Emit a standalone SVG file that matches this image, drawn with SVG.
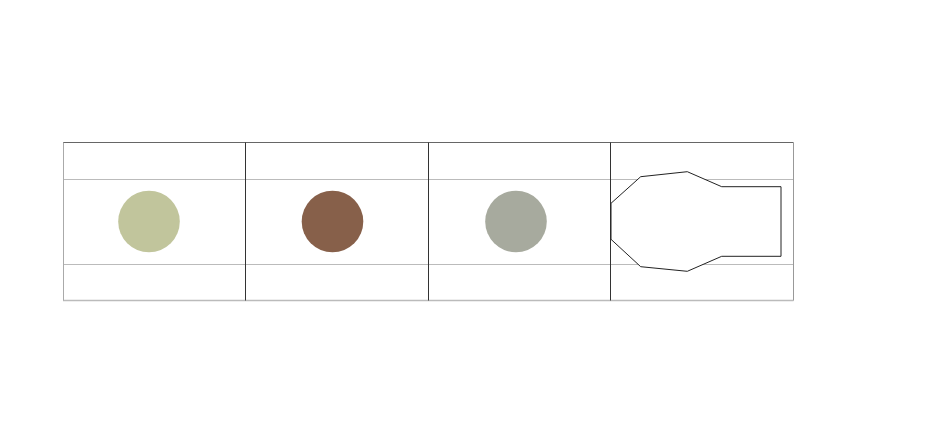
<svg xmlns="http://www.w3.org/2000/svg" width="940" height="444" viewBox="0 0 940 444">
<style>
.grid{stroke:#bbbbbb;stroke-width:1;fill:none}
.div{stroke:#333333;stroke-width:1;fill:none}
.dot{stroke:none}
</style>
<rect width="940" height="444" fill="#ffffff"/>
<g id="frame">
<line class="grid" x1="63" y1="179.5" x2="793" y2="179.5"/>
<line class="grid" x1="63" y1="264.5" x2="793" y2="264.5"/>
<line x1="63" y1="142.5" x2="793.5" y2="142.5" stroke="#666666" stroke-width="1"/>
<line x1="63" y1="300.5" x2="793.5" y2="300.5" stroke="#bbbbbb" stroke-width="1.3"/>
<line x1="63.5" y1="142.5" x2="63.5" y2="300.5" stroke="#aaaaaa" stroke-width="1"/>
<line x1="793.5" y1="142.5" x2="793.5" y2="300.5" stroke="#999999" stroke-width="1"/>
<line class="div" x1="245.5" y1="142.5" x2="245.5" y2="300.5"/>
<line class="div" x1="428.5" y1="142.5" x2="428.5" y2="300.5"/>
<line class="div" x1="610.5" y1="142.5" x2="610.5" y2="300.5"/>
</g>
<g id="cell1"><circle class="dot" cx="149" cy="221.5" r="30.8" fill="#c1c59c"/></g>
<g id="cell2"><circle class="dot" cx="332.5" cy="221.5" r="30.8" fill="#87604a"/></g>
<g id="cell3"><circle class="dot" cx="516" cy="221.5" r="30.8" fill="#a7aa9e"/></g>
<g id="cell4"><polygon points="611,203.3 640.7,176.7 687.3,171.7 721.7,186.7 781,186.7 781,256.3 721.7,256.3 687.3,271.3 640.7,266.7 611,239.3" fill="#ffffff" stroke="#222222" stroke-width="1"/></g>
<g id="connectors"></g>
</svg>
